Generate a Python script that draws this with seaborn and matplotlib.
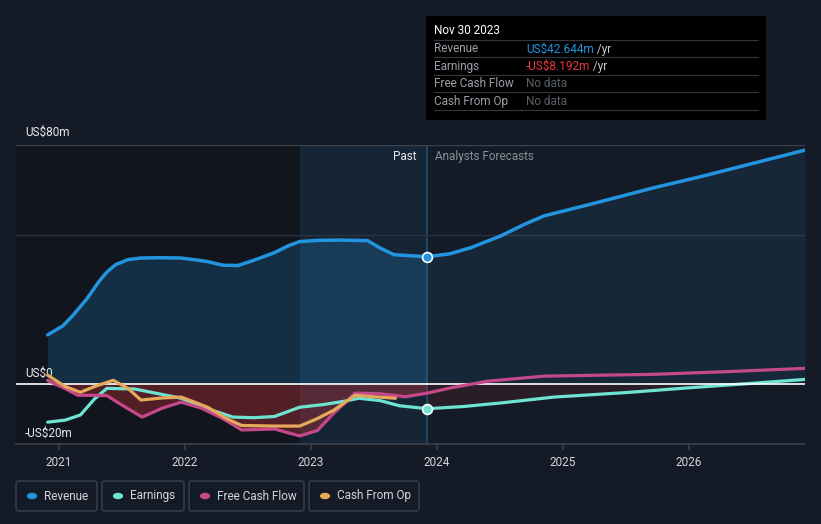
import numpy as np
import pandas as pd
import matplotlib
matplotlib.use("Agg")
import matplotlib.pyplot as plt
from matplotlib.patches import FancyBboxPatch, Rectangle
import seaborn as sns

# values in US$m, dates as fractional years
rev_past_t = [2020.91, 2021.03, 2021.11, 2021.22, 2021.32, 2021.38, 2021.45, 2021.55, 2021.65, 2021.8, 2021.97,
              2022.1, 2022.18, 2022.3, 2022.42, 2022.55, 2022.71, 2022.82, 2022.91, 2023.05,
              2023.23, 2023.35, 2023.45, 2023.55, 2023.66, 2023.92]
rev_past_v = [16.5, 19.5, 23.0, 28.5, 34.5, 37.5, 40.0, 41.7, 42.2, 42.3, 42.2,
              41.5, 41.0, 39.8, 39.7, 41.5, 44.0, 46.3, 47.7, 48.1,
              48.2, 48.1, 48.0, 45.5, 43.3, 42.644]
rev_fc_t = [2023.92, 2024.1, 2024.27, 2024.5, 2024.7, 2024.85, 2025.2, 2025.72, 2026.1, 2026.52, 2026.92]
rev_fc_v = [42.644, 43.6, 45.7, 49.5, 53.6, 56.3, 60.0, 65.7, 69.5, 74.0, 78.3]

earn_t = [2020.91, 2021.05, 2021.17, 2021.28, 2021.38, 2021.6, 2021.97, 2022.2, 2022.38, 2022.55,
          2022.71, 2022.91, 2023.1, 2023.25, 2023.38, 2023.55, 2023.7, 2023.92,
          2024.2, 2024.5, 2024.93, 2025.5, 2026.0, 2026.5, 2026.92]
earn_v = [-12.7, -12.0, -10.3, -5.0, -1.4, -1.6, -4.7, -8.5, -11.0, -11.2,
          -10.8, -7.7, -6.8, -5.8, -4.7, -5.5, -7.2, -8.192,
          -7.5, -6.3, -4.3, -2.8, -1.2, 0.3, 1.6]

fcf_t = [2020.91, 2021.05, 2021.15, 2021.38, 2021.5, 2021.66, 2021.82, 2021.97, 2022.13, 2022.3,
         2022.45, 2022.71, 2022.91, 2023.05, 2023.18, 2023.35, 2023.55, 2023.75, 2023.92,
         2024.1, 2024.4, 2024.85, 2025.72, 2026.3, 2026.92]
fcf_v = [1.3, -1.5, -3.7, -3.8, -7.0, -11.0, -8.0, -6.0, -8.0, -11.5,
         -15.3, -15.0, -17.3, -15.5, -9.7, -3.0, -3.2, -4.2, -3.0,
         -1.3, 1.0, 2.7, 3.3, 4.2, 5.3]

cfo_t = [2020.91, 2021.05, 2021.17, 2021.3, 2021.43, 2021.55, 2021.65, 2021.82, 2021.97, 2022.18,
         2022.33, 2022.45, 2022.71, 2022.91, 2023.05, 2023.18, 2023.35, 2023.5, 2023.67]
cfo_v = [3.0, -0.8, -2.7, -0.5, 1.3, -1.5, -5.3, -4.6, -4.3, -7.7,
         -11.5, -13.8, -14.0, -14.0, -11.5, -8.7, -3.7, -4.2, -4.7]

year_ticks = [2021, 2022, 2023, 2024, 2025, 2026]
now_t = 2023.92
past_start = 2022.91

C_REV = "#2394df"
C_EARN = "#6fe3d2"
C_FCF = "#c5488a"
C_CFO = "#e6a95a"
BG = "#151b26"

sns.set_theme(style="dark")
plt.rcParams["font.family"] = ["Roboto", "DejaVu Sans"]

fig = plt.figure(figsize=(8.21, 5.24), dpi=100, facecolor=BG)
W, H = 821, 524
ax = fig.add_axes([16 / W, (H - 444) / H, (805 - 16) / W, (444 - 145) / H])
ax.set_facecolor(BG)
x0 = 2021 + (16 - 59) / 126
ax.set_xlim(x0, 2026.92)
ax.set_ylim(-20, 80)

# background zones
ax.axvspan(x0, past_start, color="#10141b", alpha=0.75, zorder=0, lw=0)
ax.axvspan(past_start, now_t, color=C_REV, alpha=0.09, zorder=0, lw=0)
ax.axvline(now_t, color="#1f4d73", lw=1.2, zorder=1)

# grid
ax.axhline(80, color="#3b414b", lw=1, zorder=1)
ax.axhline(50, color="#2c323c", lw=1, zorder=1)

# fills
rev_t = rev_past_t + rev_fc_t[1:]
rev_v = rev_past_v + rev_fc_v[1:]
ax.fill_between(rev_past_t, 0, rev_past_v, color=C_REV, alpha=0.2, lw=0, zorder=2)
ax.fill_between(rev_fc_t, 0, rev_fc_v, color=C_REV, alpha=0.1, lw=0, zorder=2)
fcf_past = [(t, v) for t, v in zip(fcf_t, fcf_v) if t <= now_t]
ax.fill_between([p[0] for p in fcf_past], 0, [min(p[1], 0) for p in fcf_past],
                color="#b83038", alpha=0.4, lw=0, zorder=2)
earn_fc = [(t, v) for t, v in zip(earn_t, earn_v) if t >= now_t]
ax.fill_between([p[0] for p in earn_fc], 0, [min(p[1], 0) for p in earn_fc],
                color="#c0323a", alpha=0.12, lw=0, zorder=2)

# lines
sns.lineplot(x=rev_t, y=rev_v, ax=ax, color=C_REV, lw=2.5, zorder=5)
sns.lineplot(x=earn_t, y=earn_v, ax=ax, color=C_EARN, lw=2.3, zorder=3)
sns.lineplot(x=fcf_t, y=fcf_v, ax=ax, color=C_FCF, lw=2.3, zorder=4)
sns.lineplot(x=cfo_t, y=cfo_v, ax=ax, color=C_CFO, lw=2.3, zorder=4)
ax.axhline(0, color="#ffffff", lw=1.2, zorder=3)

ax.scatter([now_t], [rev_past_v[-1]], s=50, color=C_REV, edgecolor="white", lw=1.2, zorder=6)
ax.scatter([now_t], [earn_v[earn_t.index(now_t)]], s=50, color=C_EARN, edgecolor="white", lw=1.2, zorder=6)

# axes styling
for s in ["top", "right", "left"]:
    ax.spines[s].set_visible(False)
ax.spines["bottom"].set_color("#3b414b")
ax.spines["bottom"].set_linewidth(1.2)
ax.set_yticks([])
ax.set_xticks(year_ticks)
ax.set_xticklabels([str(y) for y in year_ticks], color="#d3d6db", fontsize=8.5)
ax.tick_params(axis="x", length=4, color="#3b414b", pad=5, bottom=True)
ax.grid(False)

ax.text(x0 + 0.07, 82, "US$80m", color="#e8eaed", fontsize=8.5, va="bottom")
ax.text(x0 + 0.07, 1.5, "US$0", color="#e8eaed", fontsize=8.5, va="bottom")
ax.text(x0 + 0.07, -18.5, "-US$20m", color="#e8eaed", fontsize=8.5, va="bottom")
ax.text(now_t - 0.08, 76, "Past", color="#e8eaed", fontsize=8.5, ha="right", va="center")
ax.text(now_t + 0.06, 76, "Analysts Forecasts", color="#8a9099", fontsize=8.5, ha="left", va="center")

# tooltip box
fig.patches.append(Rectangle((426 / W, (H - 120) / H), 340 / W, 104 / H, transform=fig.transFigure,
                             facecolor="#000000", edgecolor="none", zorder=10))
fig.text(434 / W, (H - 31) / H, "Nov 30 2023", color="#ffffff", fontsize=8.5, va="center", zorder=11)
rows = [("Revenue", "US$42.644m", C_REV, " /yr"),
        ("Earnings", "-US$8.192m", "#e8393f", " /yr"),
        ("Free Cash Flow", "No data", "#5b6068", ""),
        ("Cash From Op", "No data", "#5b6068", "")]
for i, (lab, val, col, suf) in enumerate(rows):
    yy = 49 + i * 17.4
    fig.lines.append(plt.Line2D([434 / W, 758 / W], [(H - yy + 9) / H] * 2, transform=fig.transFigure,
                                color="#33373d", lw=0.8, zorder=11))
    fig.text(434 / W, (H - yy) / H, lab, color="#9aa0a8", fontsize=8.5, va="center", zorder=11)
    t = fig.text(526 / W, (H - yy) / H, val, color=col, fontsize=8.5, va="center", zorder=11)
    if suf:
        fig.canvas.draw()
        bb = t.get_window_extent()
        fig.text(bb.x1 / W, (H - yy) / H, suf, color="#c8ccd2", fontsize=8.5, va="center", zorder=11)
fig.lines.append(plt.Line2D([434 / W, 758 / W], [(H - 110) / H] * 2, transform=fig.transFigure,
                            color="#33373d", lw=0.8, zorder=11))

# legend boxes
legend = [("Revenue", C_REV, 16, 97), ("Earnings", C_EARN, 102, 184),
          ("Free Cash Flow", C_FCF, 189, 304), ("Cash From Op", C_CFO, 309, 419)]
for lab, col, xa, xb in legend:
    fig.patches.append(FancyBboxPatch((xa / W, (H - 511) / H), (xb - xa) / W, 30 / H,
                                      boxstyle="round,pad=0,rounding_size=0.004",
                                      transform=fig.transFigure, facecolor="none",
                                      edgecolor="#3b414b", lw=1))
    fig.patches.append(plt.Circle(((xa + 16) / W, (H - 496) / H), 0.0062, transform=fig.transFigure,
                                  facecolor=col, edgecolor="none"))
    fig.text((xa + 28) / W, (H - 496) / H, lab, color="#d3d6db", fontsize=8.5, va="center")

fig.savefig("out.png", dpi=100, facecolor=BG)
